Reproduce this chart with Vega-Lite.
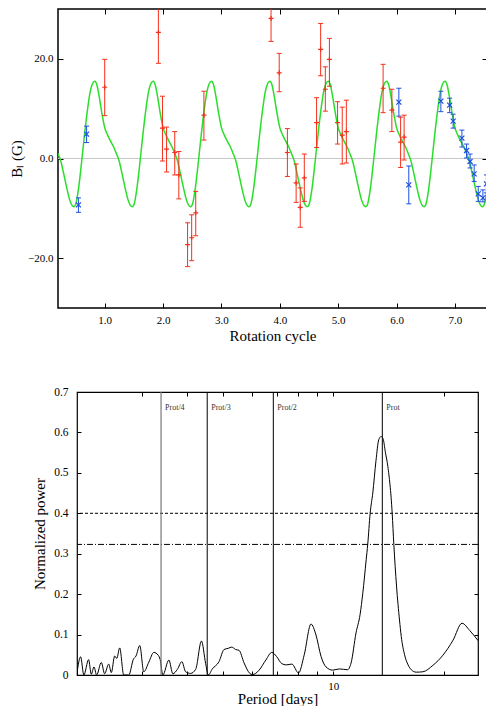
{
  "$schema": "https://vega.github.io/schema/vega-lite/v6.json",
  "padding": {"left": 7, "top": 7, "right": 0, "bottom": 0},
  "background": "white",
  "config": {
    "font": "Liberation Serif",
    "axis": {"labelFont": "Liberation Serif", "titleFont": "Liberation Serif", "tickColor": "black", "labelColor": "black", "titleColor": "black", "domain": false, "grid": false, "titleFontWeight": "normal", "tickWidth": 1}
  },
  "datasets": {
    "model": [
      {"cycle":0.2,"b":1.0},{"cycle":0.25,"b":-0.6},{"cycle":0.3,"b":-3.2},{"cycle":0.35,"b":-5.9},{"cycle":0.4,"b":-8.3},{"cycle":0.44,"b":-9.4},{"cycle":0.47,"b":-9.7},{"cycle":0.5,"b":-9.3},{"cycle":0.55,"b":-6.2},{"cycle":0.6,"b":-1.2},{"cycle":0.65,"b":4.3},{"cycle":0.7,"b":9.3},{"cycle":0.75,"b":13.3},{"cycle":0.79,"b":15.0},{"cycle":0.83,"b":15.5},{"cycle":0.87,"b":14.6},{"cycle":0.9,"b":12.8},{"cycle":0.95,"b":9.2},
      {"cycle":1.0,"b":6.2},{"cycle":1.05,"b":4.7},{"cycle":1.1,"b":3.5},{"cycle":1.15,"b":2.4},{"cycle":1.2,"b":1.0},{"cycle":1.25,"b":-0.6},{"cycle":1.3,"b":-3.2},{"cycle":1.35,"b":-5.9},{"cycle":1.4,"b":-8.3},{"cycle":1.44,"b":-9.4},{"cycle":1.47,"b":-9.7},{"cycle":1.5,"b":-9.3},{"cycle":1.55,"b":-6.2},{"cycle":1.6,"b":-1.2},{"cycle":1.65,"b":4.3},{"cycle":1.7,"b":9.3},{"cycle":1.75,"b":13.3},{"cycle":1.79,"b":15.0},{"cycle":1.83,"b":15.5},{"cycle":1.87,"b":14.6},{"cycle":1.9,"b":12.8},{"cycle":1.95,"b":9.2},
      {"cycle":2.0,"b":6.2},{"cycle":2.05,"b":4.7},{"cycle":2.1,"b":3.5},{"cycle":2.15,"b":2.4},{"cycle":2.2,"b":1.0},{"cycle":2.25,"b":-0.6},{"cycle":2.3,"b":-3.2},{"cycle":2.35,"b":-5.9},{"cycle":2.4,"b":-8.3},{"cycle":2.44,"b":-9.4},{"cycle":2.47,"b":-9.7},{"cycle":2.5,"b":-9.3},{"cycle":2.55,"b":-6.2},{"cycle":2.6,"b":-1.2},{"cycle":2.65,"b":4.3},{"cycle":2.7,"b":9.3},{"cycle":2.75,"b":13.3},{"cycle":2.79,"b":15.0},{"cycle":2.83,"b":15.5},{"cycle":2.87,"b":14.6},{"cycle":2.9,"b":12.8},{"cycle":2.95,"b":9.2},
      {"cycle":3.0,"b":6.2},{"cycle":3.05,"b":4.7},{"cycle":3.1,"b":3.5},{"cycle":3.15,"b":2.4},{"cycle":3.2,"b":1.0},{"cycle":3.25,"b":-0.6},{"cycle":3.3,"b":-3.2},{"cycle":3.35,"b":-5.9},{"cycle":3.4,"b":-8.3},{"cycle":3.44,"b":-9.4},{"cycle":3.47,"b":-9.7},{"cycle":3.5,"b":-9.3},{"cycle":3.55,"b":-6.2},{"cycle":3.6,"b":-1.2},{"cycle":3.65,"b":4.3},{"cycle":3.7,"b":9.3},{"cycle":3.75,"b":13.3},{"cycle":3.79,"b":15.0},{"cycle":3.83,"b":15.5},{"cycle":3.87,"b":14.6},{"cycle":3.9,"b":12.8},{"cycle":3.95,"b":9.2},
      {"cycle":4.0,"b":6.2},{"cycle":4.05,"b":4.7},{"cycle":4.1,"b":3.5},{"cycle":4.15,"b":2.4},{"cycle":4.2,"b":1.0},{"cycle":4.25,"b":-0.6},{"cycle":4.3,"b":-3.2},{"cycle":4.35,"b":-5.9},{"cycle":4.4,"b":-8.3},{"cycle":4.44,"b":-9.4},{"cycle":4.47,"b":-9.7},{"cycle":4.5,"b":-9.3},{"cycle":4.55,"b":-6.2},{"cycle":4.6,"b":-1.2},{"cycle":4.65,"b":4.3},{"cycle":4.7,"b":9.3},{"cycle":4.75,"b":13.3},{"cycle":4.79,"b":15.0},{"cycle":4.83,"b":15.5},{"cycle":4.87,"b":14.6},{"cycle":4.9,"b":12.8},{"cycle":4.95,"b":9.2},
      {"cycle":5.0,"b":6.2},{"cycle":5.05,"b":4.7},{"cycle":5.1,"b":3.5},{"cycle":5.15,"b":2.4},{"cycle":5.2,"b":1.0},{"cycle":5.25,"b":-0.6},{"cycle":5.3,"b":-3.2},{"cycle":5.35,"b":-5.9},{"cycle":5.4,"b":-8.3},{"cycle":5.44,"b":-9.4},{"cycle":5.47,"b":-9.7},{"cycle":5.5,"b":-9.3},{"cycle":5.55,"b":-6.2},{"cycle":5.6,"b":-1.2},{"cycle":5.65,"b":4.3},{"cycle":5.7,"b":9.3},{"cycle":5.75,"b":13.3},{"cycle":5.79,"b":15.0},{"cycle":5.83,"b":15.5},{"cycle":5.87,"b":14.6},{"cycle":5.9,"b":12.8},{"cycle":5.95,"b":9.2},
      {"cycle":6.0,"b":6.2},{"cycle":6.05,"b":4.7},{"cycle":6.1,"b":3.5},{"cycle":6.15,"b":2.4},{"cycle":6.2,"b":1.0},{"cycle":6.25,"b":-0.6},{"cycle":6.3,"b":-3.2},{"cycle":6.35,"b":-5.9},{"cycle":6.4,"b":-8.3},{"cycle":6.44,"b":-9.4},{"cycle":6.47,"b":-9.7},{"cycle":6.5,"b":-9.3},{"cycle":6.55,"b":-6.2},{"cycle":6.6,"b":-1.2},{"cycle":6.65,"b":4.3},{"cycle":6.7,"b":9.3},{"cycle":6.75,"b":13.3},{"cycle":6.79,"b":15.0},{"cycle":6.83,"b":15.5},{"cycle":6.87,"b":14.6},{"cycle":6.9,"b":12.8},{"cycle":6.95,"b":9.2},
      {"cycle":7.0,"b":6.2},{"cycle":7.05,"b":4.7},{"cycle":7.1,"b":3.5},{"cycle":7.15,"b":2.4},{"cycle":7.2,"b":1.0},{"cycle":7.25,"b":-0.6},{"cycle":7.3,"b":-3.2},{"cycle":7.35,"b":-5.9},{"cycle":7.4,"b":-8.3},{"cycle":7.44,"b":-9.4},{"cycle":7.47,"b":-9.7},{"cycle":7.5,"b":-9.3},{"cycle":7.55,"b":-6.2},{"cycle":7.6,"b":-1.2}
    ],
    "obs": [
      {"cycle":0.55,"b":-9.3,"lo":-10.8,"hi":-7.9,"series":"blue"},
      {"cycle":0.69,"b":4.9,"lo":3.2,"hi":6.5,"series":"blue"},
      {"cycle":1.0,"b":14.3,"lo":8.6,"hi":19.9,"series":"red"},
      {"cycle":1.92,"b":25.3,"lo":19.1,"hi":31.5,"series":"red"},
      {"cycle":1.99,"b":6.1,"lo":-0.5,"hi":12.5,"series":"red"},
      {"cycle":2.06,"b":1.9,"lo":-2.7,"hi":6.3,"series":"red"},
      {"cycle":2.2,"b":1.2,"lo":-3.3,"hi":5.4,"series":"red"},
      {"cycle":2.27,"b":-3.3,"lo":-8.1,"hi":1.4,"series":"red"},
      {"cycle":2.42,"b":-17.3,"lo":-21.7,"hi":-12.9,"series":"red"},
      {"cycle":2.49,"b":-15.9,"lo":-20.5,"hi":-11.3,"series":"red"},
      {"cycle":2.56,"b":-10.9,"lo":-15.5,"hi":-6.6,"series":"red"},
      {"cycle":2.7,"b":8.7,"lo":3.7,"hi":13.5,"series":"red"},
      {"cycle":3.85,"b":28.1,"lo":23.5,"hi":32.7,"series":"red"},
      {"cycle":3.99,"b":17.2,"lo":13.4,"hi":21.1,"series":"red"},
      {"cycle":4.13,"b":1.2,"lo":-3.6,"hi":6.0,"series":"red"},
      {"cycle":4.28,"b":-4.9,"lo":-8.8,"hi":-1.1,"series":"red"},
      {"cycle":4.35,"b":-9.8,"lo":-13.8,"hi":-5.9,"series":"red"},
      {"cycle":4.42,"b":-3.9,"lo":-8.6,"hi":0.9,"series":"red"},
      {"cycle":4.63,"b":7.2,"lo":2.2,"hi":12.2,"series":"red"},
      {"cycle":4.7,"b":21.9,"lo":16.6,"hi":27.1,"series":"red"},
      {"cycle":4.78,"b":13.9,"lo":9.5,"hi":18.4,"series":"red"},
      {"cycle":4.85,"b":19.9,"lo":14.5,"hi":24.1,"series":"red"},
      {"cycle":4.99,"b":7.2,"lo":2.9,"hi":11.4,"series":"red"},
      {"cycle":5.07,"b":4.7,"lo":-1.1,"hi":10.3,"series":"red"},
      {"cycle":5.14,"b":5.4,"lo":-0.9,"hi":11.7,"series":"red"},
      {"cycle":5.77,"b":14.1,"lo":9.2,"hi":18.9,"series":"red"},
      {"cycle":5.92,"b":9.7,"lo":5.4,"hi":13.9,"series":"red"},
      {"cycle":6.07,"b":3.3,"lo":-1.8,"hi":8.3,"series":"red"},
      {"cycle":6.13,"b":4.3,"lo":-0.3,"hi":8.7,"series":"red"},
      {"cycle":6.04,"b":11.3,"lo":8.5,"hi":14.1,"series":"blue"},
      {"cycle":6.21,"b":-5.3,"lo":-9.1,"hi":-1.5,"series":"blue"},
      {"cycle":6.76,"b":11.5,"lo":9.4,"hi":13.5,"series":"blue"},
      {"cycle":6.91,"b":10.7,"lo":9.2,"hi":12.1,"series":"blue"},
      {"cycle":6.97,"b":7.5,"lo":6.1,"hi":8.9,"series":"blue"},
      {"cycle":7.12,"b":4.1,"lo":2.3,"hi":5.7,"series":"blue"},
      {"cycle":7.2,"b":1.6,"lo":0.1,"hi":2.9,"series":"blue"},
      {"cycle":7.26,"b":-0.6,"lo":-1.9,"hi":0.9,"series":"blue"},
      {"cycle":7.33,"b":-3.1,"lo":-4.6,"hi":-1.3,"series":"blue"},
      {"cycle":7.4,"b":-7.1,"lo":-8.6,"hi":-5.6,"series":"blue"},
      {"cycle":7.48,"b":-7.9,"lo":-8.7,"hi":-6.3,"series":"blue"},
      {"cycle":7.54,"b":-5.1,"lo":-6.9,"hi":-3.3,"series":"blue"}
    ],
    "pgram": [
      {"P":2.0,"power":0.005},{"P":2.046,"power":0.045},{"P":2.088,"power":0.0},{"P":2.151,"power":0.038},{"P":2.188,"power":0.002},{"P":2.225,"power":0.02},{"P":2.262,"power":0.0},{"P":2.33,"power":0.031},{"P":2.379,"power":0.003},{"P":2.44,"power":0.027},{"P":2.481,"power":0.006},{"P":2.534,"power":0.047},{"P":2.567,"power":0.041},{"P":2.615,"power":0.067},{"P":2.682,"power":0.0},{"P":2.768,"power":0.0},{"P":2.85,"power":0.039},{"P":2.897,"power":0.047},{"P":2.966,"power":0.073},{"P":3.042,"power":0.008},{"P":3.14,"power":0.032},{"P":3.24,"power":0.056},{"P":3.329,"power":0.049},{"P":3.372,"power":0.038},{"P":3.428,"power":0.0},{"P":3.561,"power":0.037},{"P":3.651,"power":0.003},{"P":3.756,"power":0.014},{"P":3.864,"power":0.033},{"P":3.955,"power":0.008},{"P":4.082,"power":0.004},{"P":4.213,"power":0.014},{"P":4.369,"power":0.084},{"P":4.486,"power":0.028},{"P":4.56,"power":0.0},{"P":4.677,"power":0.015},{"P":4.878,"power":0.033},{"P":5.034,"power":0.063},{"P":5.171,"power":0.066},{"P":5.283,"power":0.069},{"P":5.418,"power":0.063},{"P":5.532,"power":0.061},{"P":5.709,"power":0.03},{"P":5.918,"power":0.004},{"P":6.015,"power":0.001},{"P":6.275,"power":0.012},{"P":6.545,"power":0.037},{"P":6.798,"power":0.056},{"P":6.998,"power":0.046},{"P":7.24,"power":0.028},{"P":7.44,"power":0.025},{"P":7.709,"power":0.027},{"P":8.036,"power":0.005},{"P":8.33,"power":0.05},{"P":8.69,"power":0.126},{"P":8.968,"power":0.099},{"P":9.256,"power":0.046},{"P":9.55,"power":0.02},{"P":9.956,"power":0.012},{"P":10.385,"power":0.015},{"P":10.94,"power":0.013},{"P":11.18,"power":0.03},{"P":11.53,"power":0.104},{"P":11.83,"power":0.15},{"P":12.03,"power":0.202},{"P":12.29,"power":0.285},{"P":12.41,"power":0.323},{"P":12.6,"power":0.4},{"P":12.81,"power":0.45},{"P":13.07,"power":0.53},{"P":13.3,"power":0.582},{"P":13.5,"power":0.59},{"P":13.66,"power":0.585},{"P":13.87,"power":0.55},{"P":14.08,"power":0.516},{"P":14.47,"power":0.4},{"P":14.62,"power":0.323},{"P":14.87,"power":0.22},{"P":15.15,"power":0.136},{"P":15.32,"power":0.095},{"P":15.64,"power":0.05},{"P":15.99,"power":0.025},{"P":16.31,"power":0.013},{"P":16.83,"power":0.007},{"P":17.55,"power":0.008},{"P":18.69,"power":0.024},{"P":19.9,"power":0.049},{"P":21.2,"power":0.086},{"P":22.43,"power":0.128},{"P":23.55,"power":0.11},{"P":24.81,"power":0.085}
    ],
    "levels": [{"v":0.4,"kind":"dash"},{"v":0.323,"kind":"dashdot"}],
    "prot": [{"p":3.39,"lab":"Prot/4"},{"p":4.53,"lab":"Prot/3"},{"p":6.86,"lab":"Prot/2"},{"p":13.6,"lab":"Prot"}]
  },
  "resolve": {"scale": {"color": "independent", "shape": "independent", "strokeDash": "independent"}},
  "concat": [
    {
      "hconcat": [
        {
          "width": 1,
          "height": 1,
          "view": {"stroke": null},
          "data": {"values": []},
          "mark": {"type": "point", "opacity": 0},
          "encoding": {}
        },
        {
          "width": 429,
          "height": 299,
          "view": {"stroke": "black", "strokeWidth": 1.5},
          "resolve": {"axis": {"x": "independent", "y": "independent"}},
          "layer": [
            {
              "data": {"values": [{"z": 0}]},
              "mark": {"type": "rule", "color": "#c8c8c8", "strokeWidth": 1},
              "encoding": {"y": {"field": "z", "type": "quantitative", "axis": null}}
            },
            {
              "data": {"name": "model"},
              "mark": {"type": "line", "color": "#2ade2a", "strokeWidth": 1.5, "interpolate": "monotone", "clip": true},
              "encoding": {
                "x": {"field": "cycle", "type": "quantitative", "scale": {"domain": [0.2, 7.55], "nice": false, "zero": false},
                      "axis": {"orient": "top", "labels": false, "values": [1,2,3,4,5,6,7], "tickSize": -5, "title": null}},
                "y": {"field": "b", "type": "quantitative", "scale": {"domain": [-30, 30], "nice": false},
                      "axis": {"orient": "right", "labels": false, "values": [-20,0,20], "tickSize": -5, "title": null}}
              }
            },
            {
              "data": {"name": "obs"},
              "mark": {"type": "rule", "strokeWidth": 1, "clip": true},
              "encoding": {
                "x": {"field": "cycle", "type": "quantitative", "axis": null},
                "y": {"field": "lo", "type": "quantitative", "axis": null},
                "y2": {"field": "hi"},
                "color": {"field": "series", "type": "nominal", "scale": {"domain": ["red","blue"], "range": ["#f5301a", "#1f4fe0"]}, "legend": null}
              }
            },
            {
              "data": {"name": "obs"},
              "mark": {"type": "tick", "orient": "horizontal", "size": 5, "thickness": 1, "clip": true, "opacity": 1},
              "encoding": {
                "x": {"field": "cycle", "type": "quantitative", "axis": null},
                "y": {"field": "lo", "type": "quantitative", "axis": null},
                "color": {"field": "series", "type": "nominal", "scale": {"domain": ["red","blue"], "range": ["#f5301a", "#1f4fe0"]}, "legend": null}
              }
            },
            {
              "data": {"name": "obs"},
              "mark": {"type": "tick", "orient": "horizontal", "size": 5, "thickness": 1, "clip": true, "opacity": 1},
              "encoding": {
                "x": {"field": "cycle", "type": "quantitative", "axis": null},
                "y": {"field": "hi", "type": "quantitative", "axis": null},
                "color": {"field": "series", "type": "nominal", "scale": {"domain": ["red","blue"], "range": ["#f5301a", "#1f4fe0"]}, "legend": null}
              }
            },
            {
              "data": {"name": "obs"},
              "mark": {"type": "point", "filled": false, "size": 25, "strokeWidth": 1.2, "opacity": 1, "clip": true},
              "encoding": {
                "x": {"field": "cycle", "type": "quantitative",
                      "axis": {"values": [1,2,3,4,5,6,7], "format": ".1f", "tickSize": -5, "labelPadding": 11, "labelFontSize": 11, "title": "Rotation cycle", "titleFontSize": 15, "titlePadding": 3}},
                "y": {"field": "b", "type": "quantitative",
                      "axis": {"values": [-20,0,20], "format": ".1f", "tickSize": -5, "labelPadding": 10, "labelFontSize": 11, "title": "Bₗ (G)", "titleFontSize": 15, "titlePadding": 3}},
                "color": {"field": "series", "type": "nominal", "scale": {"domain": ["red","blue"], "range": ["#f5301a", "#1f4fe0"]}, "legend": null},
                "shape": {"field": "series", "type": "nominal", "scale": {"domain": ["red","blue"], "range": ["M-1,0L1,0M0,-1L0,1", "M-1,-1L1,1M-1,1L1,-1"]}, "legend": null}
              }
            }
          ]
        }
      ],
      "spacing": 0
    },
    {
      "hconcat": [
        {
          "width": 25,
          "height": 1,
          "view": {"stroke": null},
          "data": {"values": []},
          "mark": {"type": "point", "opacity": 0},
          "encoding": {}
        },
        {
          "width": 401,
          "height": 283,
          "view": {"stroke": "black", "strokeWidth": 1.2},
          "resolve": {"axis": {"x": "independent", "y": "independent"}},
          "layer": [
            {
              "data": {"name": "pgram"},
              "mark": {"type": "line", "color": "black", "strokeWidth": 1, "interpolate": "monotone", "clip": true},
              "encoding": {
                "x": {"field": "P", "type": "quantitative", "scale": {"type": "log", "domain": [2, 24.8], "nice": false},
                      "axis": {"values": [2,3,4,5,6,7,8,9,10,20], "labelExpr": "datum.value == 10 ? '10' : ''", "tickSize": -4, "labelPadding": 9, "labelFontSize": 11, "title": "Period [days]", "titleFontSize": 15, "titlePadding": 0}},
                "y": {"field": "power", "type": "quantitative", "scale": {"domain": [0, 0.7], "nice": false},
                      "axis": {"values": [0,0.1,0.2,0.3,0.4,0.5,0.6,0.7], "format": "~g", "tickSize": -4, "labelPadding": 13, "labelFontSize": 11.5, "title": "Normalized power", "titleFontSize": 15, "titlePadding": 6}}
              }
            },
            {
              "data": {"name": "levels"},
              "mark": {"type": "rule", "color": "black", "strokeWidth": 1},
              "encoding": {
                "y": {"field": "v", "type": "quantitative",
                      "axis": {"orient": "right", "labels": false, "values": [0.1,0.2,0.3,0.4,0.5,0.6], "tickSize": -4, "title": null}},
                "strokeDash": {"field": "kind", "type": "nominal", "scale": {"domain": ["dash","dashdot"], "range": [[3,2],[6,2,1,2]]}, "legend": null}
              }
            },
            {
              "data": {"name": "prot"},
              "transform": [{"filter": "datum.lab == 'Prot/4'"}],
              "mark": {"type": "rule", "strokeWidth": 1.2, "color": "#777777"},
              "encoding": {
                "x": {"field": "p", "type": "quantitative", "axis": null}
              }
            },
            {
              "data": {"name": "prot"},
              "transform": [{"filter": "datum.lab != 'Prot/4'"}],
              "mark": {"type": "rule", "strokeWidth": 1, "color": "black"},
              "encoding": {
                "x": {"field": "p", "type": "quantitative", "axis": null}
              }
            },
            {
              "data": {"name": "prot"},
              "mark": {"type": "text", "align": "left", "baseline": "middle", "dx": 4, "fontSize": 8, "color": "#333333", "font": "Liberation Serif"},
              "encoding": {
                "x": {"field": "p", "type": "quantitative",
                      "axis": {"orient": "top", "labels": false, "values": [3,4,5,6,7,8,9,10,20], "tickSize": -4, "title": null}},
                "y": {"datum": 0.66, "type": "quantitative", "axis": null},
                "text": {"field": "lab"}
              }
            }
          ]
        }
      ],
      "spacing": 0
    }
  ],
  "columns": 1,
  "spacing": 41
}
